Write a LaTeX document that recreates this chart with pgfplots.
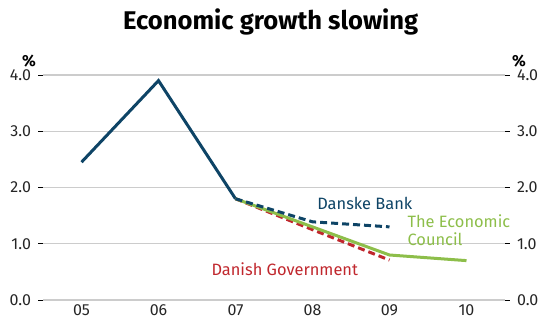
\documentclass[border=0pt]{standalone}
\usepackage{fontspec}
\setmainfont{Fira Sans}
\usepackage{pgfplots}
\pgfplotsset{compat=1.18}
\definecolor{navy}{HTML}{0E4466}
\definecolor{lgreen}{HTML}{8DBE4A}
\definecolor{dred}{HTML}{C0272D}
\definecolor{gridg}{HTML}{CCCCCC}
\begin{document}
\begin{tikzpicture}
\useasboundingbox (-21.5pt,-10.5pt) rectangle (249pt,150pt);
\pgfplotsset{
  common/.style={
    scale only axis, width=231pt, height=112.5pt,
    xmin=4.5, xmax=10.5, ymin=0, ymax=4,
    ytick={0,1,2,3,4},
    yticklabel style={/pgf/number format/.cd, fixed, fixed zerofill, precision=1},
    /pgf/number format/assume math mode=true,
    axis line style={draw=none},
    tick style={black, line width=0.4pt},
    tick align=outside,
    major tick length=2.5pt,
    ticklabel style={font=\fontsize{8pt}{9.5pt}\selectfont, text=black!85},
  }
}
\begin{axis}[common,
  ymajorgrids, grid style={gridg, line width=0.6pt},
  xtick={5,6,7,8,9,10},
  xticklabels={05,06,07,08,09,10},
  xtick style={draw=none},
  minor xtick={4.5,5.5,6.5,7.5,8.5,9.5,10.5},
  minor tick length=3pt,
  minor x tick style={black, line width=0.4pt},
  xticklabel style={yshift=3.5pt},
  ytick pos=left,
  title={\bfseries Economic growth slowing},
  title style={font=\fontsize{12.8pt}{14pt}\selectfont\bfseries, at={(axis description cs:0.493,1)}, yshift=10.5pt},
  clip=false,
]
\addplot[navy, line width=1.5pt] coordinates {(5,2.45) (6,3.9) (7,1.8)};
\addplot[dred, line width=1.5pt, dash pattern=on 3.5pt off 2pt] coordinates {(7,1.8) (8,1.25) (9,0.71)};
\addplot[lgreen, line width=1.5pt] coordinates {(7,1.8) (8,1.3) (9,0.8) (10,0.7)};
\addplot[navy, line width=1.5pt, dash pattern=on 3.5pt off 2pt] coordinates {(7,1.8) (8,1.39) (9,1.3)};
\node[navy, font=\fontsize{8.2pt}{9pt}\selectfont] at (axis cs:8.68,1.72) {Danske Bank};
\node[lgreen, font=\fontsize{8.2pt}{9pt}\selectfont, anchor=west, align=left, inner sep=0pt] at (axis cs:9.23,1.24) {The Economic\\Council};
\node[dred, font=\fontsize{8.2pt}{9pt}\selectfont] at (axis cs:7.64,0.55) {Danish Government};
\node[font=\fontsize{8pt}{9pt}\selectfont\bfseries, anchor=south west] at (axis description cs:0,1) [xshift=-14pt, yshift=0.5pt] {\%};
\node[font=\fontsize{8pt}{9pt}\selectfont\bfseries, anchor=south east] at (axis description cs:1,1) [xshift=14pt, yshift=0.5pt] {\%};
\end{axis}
\begin{axis}[common,
  xtick=\empty,
  ytick pos=right,
  yticklabel pos=right,
]
\end{axis}
\end{tikzpicture}
\end{document}
